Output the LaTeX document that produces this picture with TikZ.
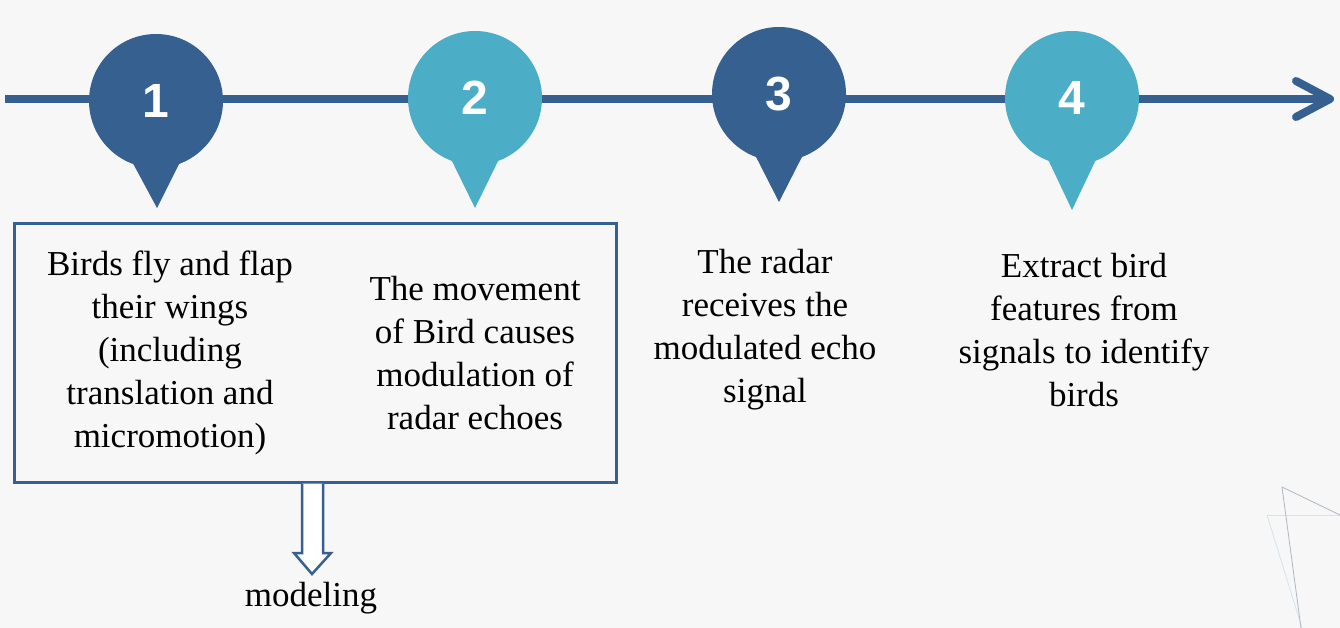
\documentclass[tikz,border=0pt]{standalone}
\usepackage{fontspec}
\setmainfont{Liberation Serif}
\newfontfamily\numfont{Liberation Sans}
\definecolor{darkb}{HTML}{35608F}
\definecolor{lightb}{HTML}{4BADC6}
\definecolor{bgc}{HTML}{F7F7F7}
\definecolor{decog}{HTML}{AEB7C3}
\definecolor{decol}{HTML}{D3E4EE}
\tikzset{
  pinc/.style={circle, inner sep=0pt, minimum size=134pt, text=white, font=\numfont\bfseries\fontsize{48}{48}\selectfont},
  txt/.style={align=center, inner sep=0pt, text=black, font=\fontsize{35}{43}\selectfont},
  tline/.style={darkb, line width=8pt},
}
\begin{document}
\begin{tikzpicture}[x=1pt,y=-1pt]
\fill[bgc] (0,0) rectangle (1340,628);
\useasboundingbox (0,0) rectangle (1340,628);
% decorative triangles
\draw[decol, line width=0.8pt] (1267,515) -- (1340,515);
\draw[decol, line width=0.8pt] (1267,515) -- (1302,628);
\draw[decog, line width=0.8pt] (1282,487) -- (1340,515);
\draw[decog, line width=0.8pt] (1282,487) -- (1301,628);
% timeline
\coordinate (ls) at (5,99);
\coordinate (le) at (1330,99);
\draw[tline] (ls) -- (1326,99);
\draw[tline, line cap=round, line join=round] (1296,81) -- (le) -- (1296,117);
% pins
\fill[darkb] (129,156) -- (183,156) -- (157,208) -- cycle;
\node[pinc, fill=darkb] (p1) at (156,101) {1};
\fill[lightb] (448,153) -- (502,153) -- (475,208) -- cycle;
\node[pinc, fill=lightb] (p2) at (475,98) {2};
\fill[darkb] (752,149) -- (806,149) -- (779,202) -- cycle;
\node[pinc, fill=darkb] (p3) at (779,94) {3};
\fill[lightb] (1045,153) -- (1099,153) -- (1072,210) -- cycle;
\node[pinc, fill=lightb] (p4) at (1072,98) {4};
% box
\node[draw=darkb, line width=3pt, minimum width=602pt, minimum height=258pt, inner sep=0pt] (box) at (315,353) {};
\node[txt] (t1) at (170,353) {Birds fly and flap\\their wings\\(including\\translation and\\micromotion)};
\node[txt] (t2) at (475,353) {The movement\\of Bird causes\\modulation of\\radar echoes};
\node[txt] (t3) at (765,330) {The radar\\receives the\\modulated echo\\signal};
\node[txt] (t4) at (1084,330) {Extract bird\\features from\\signals to identify\\birds};
% modeling arrow
\node[txt] (mod) at (311,598) {modeling};
\draw[darkb, fill=white, line width=2.5pt, line join=miter]
  (302,483.5) -- (302,553) -- (294,553) -- (312,574) -- (331,553) -- (323,553) -- (323,483.5);
\end{tikzpicture}
\end{document}
